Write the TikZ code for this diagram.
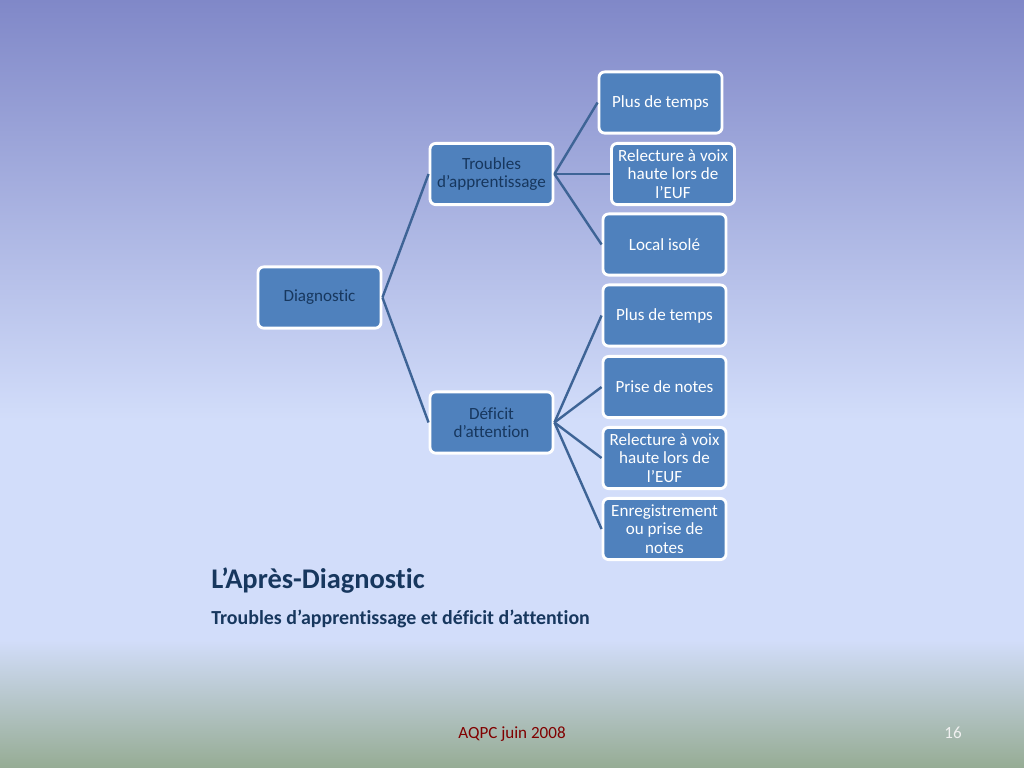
\documentclass[tikz,border=0pt]{standalone}
\usepackage{fontspec}
\setmainfont[Ligatures=NoCommon]{Carlito}
\definecolor{bgtop}{RGB}{128,136,200}
\definecolor{bgmid}{RGB}{210,221,250}
\definecolor{bgbot}{RGB}{150,172,148}
\definecolor{nodefill}{RGB}{79,129,189}
\definecolor{navy}{RGB}{23,55,94}
\definecolor{linkcol}{RGB}{62,100,150}
\definecolor{footred}{RGB}{128,0,0}
\tikzset{
  box/.style={draw=white, line width=2pt, fill=nodefill, rounded corners=4pt,
    minimum width=86.5pt, minimum height=43pt, inner sep=1pt, align=center,
    font=\fontsize{12}{13}\selectfont, text=white},
  parentbox/.style={box, text=navy},
  link/.style={draw=linkcol, line width=1.7pt}
}
\begin{document}
\begin{tikzpicture}[x=0.703pt, y=-0.703pt]
\useasboundingbox (0,0) rectangle (1024,768);
\shade[top color=bgtop, bottom color=bgmid] (0,0) rectangle (1024,420);
\fill[bgmid] (0,419) rectangle (1024,641);
\shade[top color=bgmid, bottom color=bgbot] (0,640) rectangle (1024,768);

\node[parentbox] (diag) at (319.5,297.5) {Diagnostic};
\node[parentbox] (trou) at (491.5,174) {Troubles\\d’apprentissage};
\node[parentbox] (defi) at (491.5,422.5) {Déficit\\d’attention};

\node[box] (t1) at (660.5,102.5) {Plus de temps};
\node[box] (t2) at (673,174) {Relecture à voix\\haute lors de\\l’EUF};
\node[box] (t3) at (664.5,244.5) {Local isolé};

\node[box] (d1) at (664.5,315.5) {Plus de temps};
\node[box] (d2) at (664.5,387) {Prise de notes};
\node[box] (d3) at (664.5,458) {Relecture à voix\\haute lors de\\l’EUF};
\node[box] (d4) at (664.5,529) {Enregistrement\\ou prise de\\notes};

\draw[link] (diag.east) -- (trou.west);
\draw[link] (diag.east) -- (defi.west);
\foreach \c in {t1,t2,t3} \draw[link] (trou.east) -- (\c.west);
\foreach \c in {d1,d2,d3,d4} \draw[link] (defi.east) -- (\c.west);

\node[anchor=base west, inner sep=0pt, text=navy, font=\fontsize{20}{24}\selectfont\bfseries] (title) at (211,588) {L’Après-Diagnostic};
\node[anchor=base west, inner sep=0pt, text=navy, font=\fontsize{14}{17}\selectfont\bfseries] (sub) at (211,624) {Troubles d’apprentissage et déficit d’attention};
\node[anchor=base, inner sep=0pt, text=footred, font=\fontsize{12}{14}\selectfont] (foot) at (512,738) {AQPC juin 2008};
\node[anchor=base east, inner sep=0pt, text=white!94!black, font=\fontsize{12}{14}\selectfont] (num) at (962,738) {16};
\end{tikzpicture}
\end{document}
